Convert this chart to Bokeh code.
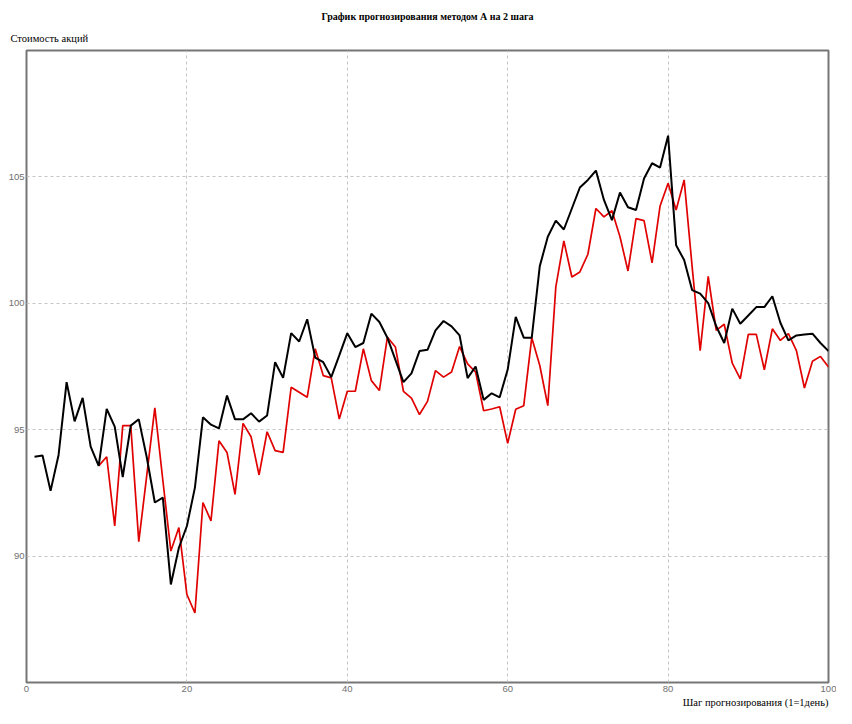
from bokeh.plotting import figure
from bokeh.models import FixedTicker, Title, Range1d
from bokeh.embed import file_html
from bokeh.resources import INLINE

# ---- data ----
steps_fact = list(range(1, 101))
fact = [93.93, 93.98, 92.58, 94.00, 96.88, 95.33, 96.26, 94.33, 93.57, 95.82,
        95.12, 93.13, 95.16, 95.41, 93.90, 92.12, 92.31, 88.88, 90.33, 91.19,
        92.71, 95.49, 95.20, 95.05, 96.35, 95.41, 95.41, 95.65, 95.32, 95.56,
        97.67, 97.05, 98.82, 98.49, 99.37, 97.85, 97.67, 97.08, 97.94, 98.82,
        98.27, 98.43, 99.59, 99.26, 98.64, 97.76, 96.88, 97.23, 98.11, 98.16,
        98.93, 99.30, 99.09, 98.73, 97.04, 97.50, 96.18, 96.44, 96.28, 97.38,
        99.46, 98.64, 98.64, 101.47, 102.63, 103.27, 102.92, 103.75, 104.58, 104.88,
        105.25, 104.09, 103.29, 104.38, 103.80, 103.69, 104.94, 105.54, 105.37, 106.63,
        102.30, 101.71, 100.52, 100.38, 100.01, 99.09, 98.43, 99.79, 99.19, 99.52,
        99.85, 99.85, 100.28, 99.23, 98.53, 98.73, 98.77, 98.80, 98.43, 98.11]

steps_forecast = list(range(9, 101))
forecast = [93.57, 93.93, 91.19, 95.16, 95.16, 90.57, 93.20, 95.86, 93.00, 90.20,
            91.13, 88.48, 87.75, 92.12, 91.39, 94.56, 94.10, 92.44, 95.25, 94.72,
            93.21, 94.92, 94.17, 94.10, 96.68, 96.48, 96.28, 98.20, 97.14, 97.05,
            95.42, 96.52, 96.52, 98.20, 96.94, 96.55, 98.66, 98.27, 96.52, 96.25,
            95.60, 96.12, 97.34, 97.08, 97.28, 98.29, 97.60, 97.28, 95.75, 95.82,
            95.91, 94.46, 95.81, 95.95, 98.64, 97.54, 95.95, 100.65, 102.47, 101.04,
            101.24, 101.94, 103.75, 103.42, 103.66, 102.63, 101.28, 103.35, 103.27, 101.60,
            103.85, 104.75, 103.69, 104.88, 101.44, 98.13, 101.07, 98.93, 99.17, 97.63,
            97.01, 98.77, 98.77, 97.37, 98.99, 98.53, 98.80, 98.13, 96.65, 97.71,
            97.90, 97.48]

x_ticks = [0, 20, 40, 60, 80, 100]
y_ticks = [90, 95, 100, 105]
title_text = "График прогнозирования методом А на 2 шага"
y_label_text = "Стоимость акций"
x_label_text = "Шаг прогнозирования (1=1день)"

p = figure(width=836, height=708, output_backend="svg", toolbar_location=None,
           x_range=Range1d(0, 100), y_range=Range1d(85, 110), title=None,
           min_border_left=26, min_border_right=8, min_border_top=50, min_border_bottom=26,
           background_fill_color="white", border_fill_color="white")

p.outline_line_color = "#767676"
p.outline_line_width = 2

for ax in (p.xaxis, p.yaxis):
    ax.axis_line_color = None
    ax.major_tick_line_color = None
    ax.minor_tick_line_color = None
    ax.major_tick_out = 0
    ax.major_tick_in = 0
    ax.minor_tick_out = 0
    ax.minor_tick_in = 0
    ax.major_label_text_font = "Liberation Sans"
    ax.major_label_text_font_size = "9.5px"
    ax.major_label_text_color = "#707070"
    ax.major_label_standoff = 2
p.xaxis.major_label_standoff = 3

p.xaxis.ticker = FixedTicker(ticks=x_ticks)
p.yaxis.ticker = FixedTicker(ticks=y_ticks)

p.xgrid.ticker = FixedTicker(ticks=x_ticks[1:-1])
p.ygrid.ticker = FixedTicker(ticks=y_ticks)
for g in (p.xgrid, p.ygrid):
    g.grid_line_color = "#c4c4c4"
    g.grid_line_dash = "3 3"
    g.grid_line_width = 1

p.line(steps_forecast, forecast, line_color="#e00000", line_width=1.7)
p.line(steps_fact, fact, line_color="#000000", line_width=2)

ylab = Title(text=y_label_text, align="left", offset=-16, standoff=13,
             text_font="Liberation Serif", text_font_size="10.5px",
             text_font_style="normal", text_color="#000000")
p.add_layout(ylab, "above")
main = Title(text=title_text, align="center", standoff=5,
             text_font="Liberation Serif", text_font_size="10px",
             text_font_style="bold", text_color="#000000")
p.add_layout(main, "above")

xlab = Title(text=x_label_text, align="right", standoff=0,
             text_font="Liberation Serif", text_font_size="10.5px",
             text_font_style="normal", text_color="#000000")
p.add_layout(xlab, "below")

open("out.html", "w").write(file_html(p, INLINE))
